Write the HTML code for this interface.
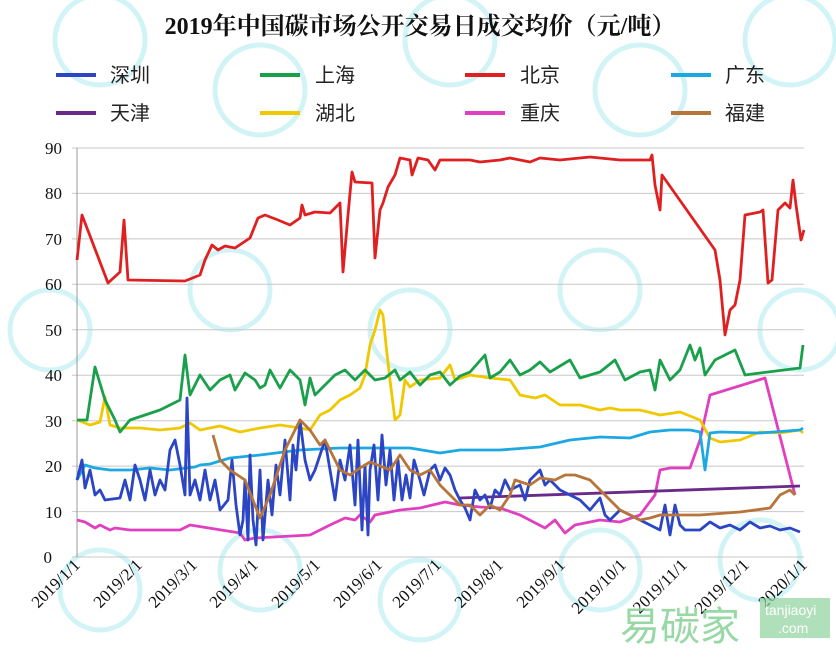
<!DOCTYPE html><html><head><meta charset="utf-8"><style>body{margin:0;background:#fff}svg{display:block}</style></head><body>
<svg width="836" height="659" xmlns="http://www.w3.org/2000/svg" font-family="'Liberation Serif','Noto Serif CJK SC',serif">
<rect width="836" height="659" fill="#fff"/>
<g fill="none" stroke="#bfeff2" stroke-width="5" opacity="0.7">
<circle cx="100" cy="40" r="45"/><circle cx="260" cy="90" r="45"/><circle cx="450" cy="40" r="45"/><circle cx="640" cy="90" r="45"/><circle cx="790" cy="40" r="45"/>
<circle cx="50" cy="330" r="40"/><circle cx="230" cy="290" r="40"/><circle cx="410" cy="330" r="40"/><circle cx="600" cy="290" r="40"/><circle cx="800" cy="330" r="40"/>
<circle cx="100" cy="590" r="40"/><circle cx="260" cy="570" r="40"/><circle cx="420" cy="600" r="40"/><circle cx="600" cy="570" r="40"/><circle cx="760" cy="560" r="40"/>
</g>
<text x="420" y="34" text-anchor="middle" font-size="24" font-weight="bold" fill="#111">2019年中国碳市场公开交易日成交均价（元/吨）</text>
<g stroke-width="4">
<line x1="56" y1="75" x2="96" y2="75" stroke="#2b45c4"/><line x1="260" y1="75" x2="300" y2="75" stroke="#1aa04a"/><line x1="465" y1="75" x2="505" y2="75" stroke="#e02020"/><line x1="671" y1="75" x2="711" y2="75" stroke="#1ca8e0"/>
<line x1="56" y1="113" x2="96" y2="113" stroke="#6a2a8a"/><line x1="260" y1="113" x2="300" y2="113" stroke="#f0c800"/><line x1="465" y1="113" x2="505" y2="113" stroke="#e040c0"/><line x1="671" y1="113" x2="711" y2="113" stroke="#b8753a"/>
</g>
<g font-size="20" fill="#222" font-family="'Liberation Sans','Noto Sans CJK SC',sans-serif">
<text x="110" y="82">深圳</text><text x="315" y="82">上海</text><text x="520" y="82">北京</text><text x="725" y="82">广东</text>
<text x="110" y="120">天津</text><text x="315" y="120">湖北</text><text x="520" y="120">重庆</text><text x="725" y="120">福建</text>
</g>
<g stroke="#c8c8c8" stroke-width="1">
<line x1="72" y1="148" x2="804" y2="148"/><line x1="72" y1="193.4" x2="804" y2="193.4"/><line x1="72" y1="238.9" x2="804" y2="238.9"/><line x1="72" y1="284.3" x2="804" y2="284.3"/><line x1="72" y1="329.8" x2="804" y2="329.8"/><line x1="72" y1="375.2" x2="804" y2="375.2"/><line x1="72" y1="420.7" x2="804" y2="420.7"/><line x1="72" y1="466.1" x2="804" y2="466.1"/><line x1="72" y1="511.6" x2="804" y2="511.6"/><line x1="72" y1="557" x2="804" y2="557"/>
<line x1="77" y1="148" x2="77" y2="557" stroke="#999"/>
</g>
<g font-size="17" fill="#111" text-anchor="end">
<text x="62" y="154">90</text><text x="62" y="199">80</text><text x="62" y="245">70</text><text x="62" y="290">60</text><text x="62" y="336">50</text><text x="62" y="381">40</text><text x="62" y="427">30</text><text x="62" y="472">20</text><text x="62" y="518">10</text><text x="52" y="563">0</text>
</g>
<g fill="none" stroke-width="2.8" stroke-linejoin="round">
<polyline stroke="#e040c0" points="77,520 85,522 95,528 100,525 110,530 115,528 130,530 150,530 180,530 190,525 240,533 245,540 255,538 310,535 330,525 345,518 355,520 360,515 370,522 375,515 385,513 400,510 420,508 445,502 460,505 480,507 500,508 520,515 545,528 555,520 565,533 575,525 590,522 600,520 620,522 640,515 655,495 660,470 670,468 690,468 700,440 710,395 765,378 795,495"/>
<polyline stroke="#6a2a8a" points="460,498 800,486"/>
<polyline stroke="#f0c800" points="77,420 90,425 100,422 105,397 110,425 120,428 140,428 160,430 180,428 190,423 200,430 220,426 240,432 260,428 280,425 300,428 310,430 320,415 330,410 340,400 350,395 360,388 365,375 370,345 375,330 380,310 383,315 386,345 390,380 395,420 400,415 405,380 410,387 420,380 440,378 450,365 455,380 470,375 490,378 510,380 520,395 535,398 545,395 560,405 580,405 600,410 610,408 620,410 640,410 660,415 680,412 700,420 710,438 720,442 740,440 760,432 780,433 800,430 803,433"/>
<polyline stroke="#1ca8e0" points="77,480 85,465 95,468 110,470 130,470 150,468 170,470 195,467 200,465 210,464 230,458 260,455 300,450 340,448 380,448 410,448 440,453 460,450 500,450 540,447 570,440 600,437 630,438 650,432 670,430 690,430 700,432 705,470 710,433 720,432 760,433 800,430 803,428"/>
<polyline stroke="#2b45c4" points="77,480 82,460 85,488 90,470 95,495 100,490 105,500 120,498 125,480 130,500 135,465 140,480 145,500 150,470 155,495 160,480 165,490 170,450 175,440 180,465 185,495 187,398 190,495 195,480 200,500 205,470 210,500 215,480 220,510 228,500 232,460 236,505 240,535 243,520 245,480 248,540 250,455 253,520 256,545 260,470 263,540 268,480 272,515 276,465 280,495 285,440 290,500 293,445 296,470 300,420 305,460 310,480 315,470 320,455 325,440 330,470 335,500 340,460 345,480 350,445 355,505 358,440 362,530 365,465 368,535 370,470 374,445 378,500 382,435 386,485 390,450 394,500 398,460 402,500 406,475 410,498 414,460 420,480 424,495 430,470 435,465 440,480 445,468 450,475 455,490 460,500 465,508 470,520 475,490 480,500 485,495 490,508 495,490 500,495 505,480 510,490 520,485 525,500 530,480 540,470 545,485 550,480 560,490 570,495 580,500 590,510 600,498 605,515 610,520 620,510 630,515 640,520 650,525 660,530 665,505 670,535 675,505 680,525 685,530 690,530 700,530 710,522 720,528 730,525 740,530 750,522 760,528 770,526 780,530 790,528 800,532"/>
<polyline stroke="#b8753a" points="213,435 220,460 230,470 245,480 260,518 270,495 285,450 300,420 310,430 320,445 325,440 340,470 350,475 360,468 370,462 390,470 400,455 410,470 420,475 430,470 440,485 460,505 470,505 480,515 490,505 500,510 510,495 515,480 530,485 540,478 555,480 565,475 575,475 590,480 600,490 610,500 620,510 640,520 650,518 660,515 700,515 740,512 770,508 780,495 790,490 795,495"/>
<polyline stroke="#1aa04a" points="77,420 87,420 95,367 105,400 115,420 120,432 130,420 160,410 180,400 185,355 190,395 200,375 210,390 220,380 230,375 235,390 245,373 255,380 260,388 265,385 270,370 280,388 290,370 300,380 305,405 310,378 315,395 325,385 335,375 345,370 355,380 365,370 375,380 385,378 395,370 400,380 410,372 420,385 430,375 440,372 450,385 460,376 470,372 485,355 490,378 500,372 510,360 520,375 530,370 540,362 550,372 570,360 580,378 600,372 615,360 625,380 640,372 650,370 655,390 660,360 670,380 680,370 690,345 695,360 700,348 705,375 715,360 725,355 735,350 745,375 760,373 800,368 803,345"/>
<polyline stroke="#e02020" points="77,260 82,215 108,283 120,272 124,220 128,280 185,281 200,275 205,260 212,245 218,250 225,246 235,248 250,238 258,218 265,215 278,220 290,225 300,218 302,205 305,215 315,212 330,213 340,203 343,272 348,215 352,172 355,182 372,183 375,258 380,210 383,203 388,187 395,175 400,158 410,160 412,175 418,158 428,160 435,170 440,160 470,160 480,162 500,160 510,158 530,162 540,158 560,160 590,157 620,160 650,160 652,155 655,185 660,210 662,175 715,250 720,280 725,335 730,310 735,305 740,280 745,215 760,212 763,210 768,283 772,280 778,210 785,203 790,208 793,180 796,205 801,240 804,230"/>
</g>
<g font-size="17" fill="#111" text-anchor="end">
<text transform="translate(81,566) rotate(-45)">2019/1/1</text>
<text transform="translate(143,566) rotate(-45)">2019/2/1</text>
<text transform="translate(198,566) rotate(-45)">2019/3/1</text>
<text transform="translate(259,566) rotate(-45)">2019/4/1</text>
<text transform="translate(321,566) rotate(-45)">2019/5/1</text>
<text transform="translate(383,566) rotate(-45)">2019/6/1</text>
<text transform="translate(442,566) rotate(-45)">2019/7/1</text>
<text transform="translate(504,566) rotate(-45)">2019/8/1</text>
<text transform="translate(566,566) rotate(-45)">2019/9/1</text>
<text transform="translate(627,566) rotate(-45)">2019/10/1</text>
<text transform="translate(688,566) rotate(-45)">2019/11/1</text>
<text transform="translate(750,566) rotate(-45)">2019/12/1</text>
<text transform="translate(808,566) rotate(-45)">2020/1/1</text>
</g>
<text x="620" y="640" font-size="40" fill="#7fcf8f" opacity="0.8" font-family="'Liberation Sans','Noto Sans CJK SC',sans-serif">易碳家</text>
<rect x="760" y="598" width="70" height="40" fill="#8fd39c" opacity="0.7"/>
<text x="765" y="615" font-size="14" fill="#fff" font-family="'Liberation Sans',sans-serif">tanjiaoyi</text>
<text x="778" y="633" font-size="14" fill="#fff" font-family="'Liberation Sans',sans-serif">.com</text>
</svg>
</body></html>
